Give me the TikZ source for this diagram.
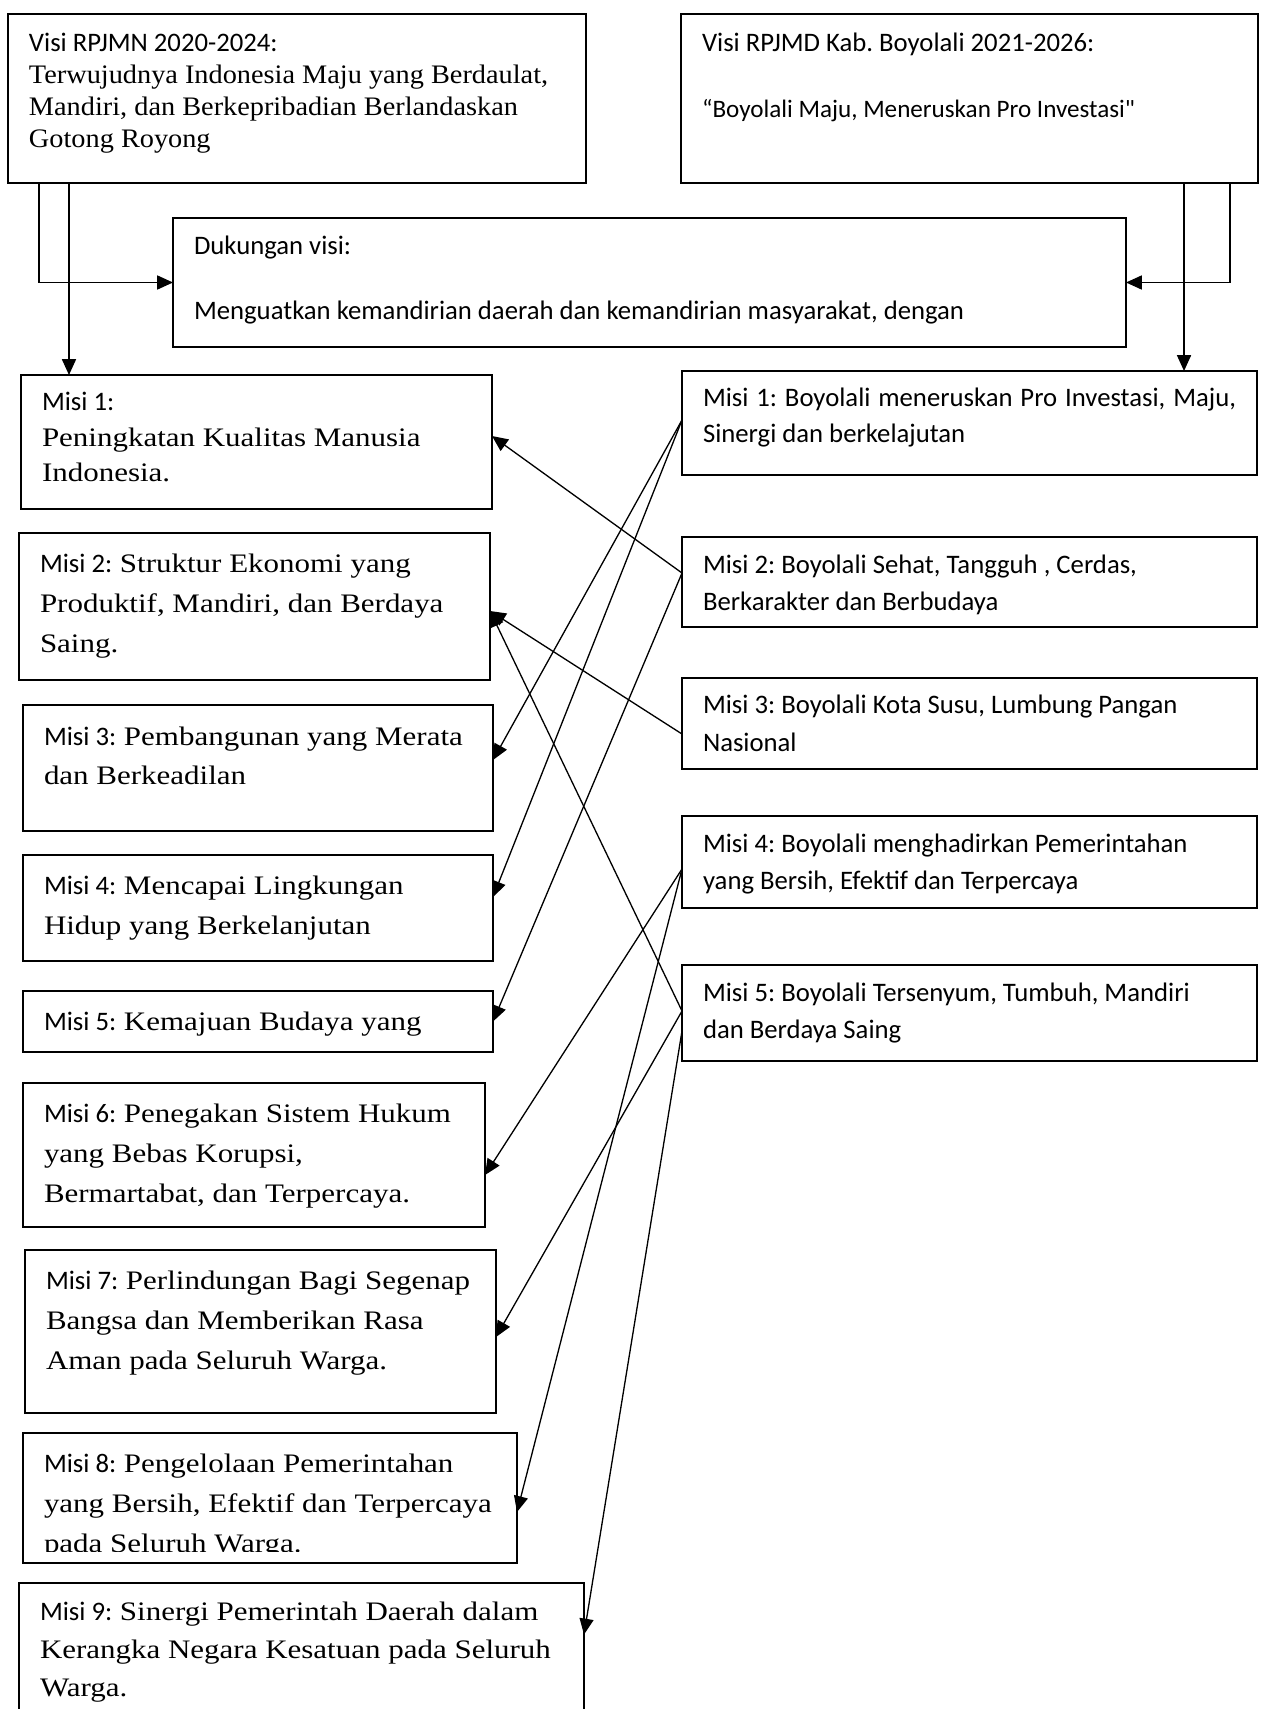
\documentclass[tikz,border=0pt]{standalone}
\usepackage{fontspec}
\setmainfont{Liberation Serif}[FakeStretch=1.16]
\newfontfamily\visiserif{Liberation Serif}[FakeStretch=1.06]
\newfontfamily\calibri{Carlito}
\usetikzlibrary{arrows.meta}
\frenchspacing
\newlength\pxu
\setlength\pxu{0.02cm}
% box text: width, height, first baseline, text
\newcommand{\inbox}[4]{\hspace*{21\pxu}\parbox[c][#2\pxu][t]{\dimexpr#1\pxu-21\pxu\relax}{\raggedright\rule{0pt}{#3\pxu}#4}}
\tikzset{
	panel/.style={draw, line width=1.1pt, anchor=north west, inner sep=0pt, outer sep=0pt},
	link/.style={line width=0.75pt, -{Triangle[length=9pt, width=8pt]}}
}

\begin{document}
\begin{tikzpicture}[x=0.02cm, y=-0.02cm]
			%%%%% START %%%%%
			\useasboundingbox (0, 0) rectangle (1260, 1709);
			\clip (0, 0) rectangle (1260, 1709);
			
			\node[panel] (vis1) at (8, 14) {\inbox{578}{169}{38}{\fontsize{15.2pt}{32\pxu}\selectfont {\calibri Visi RPJMN 2020-2024:}\\ {\visiserif Terwujudnya Indonesia Maju yang Berdaulat,\\ Mandiri, dan Berkepribadian Berlandaskan\\ Gotong Royong}}};
			\node[panel] (vis2) at (681, 14) {\inbox{577}{169}{38}{\calibri\fontsize{15.2pt}{66\pxu}\selectfont Visi RPJMD Kab. Boyolali 2021-2026:\\ {\fontsize{14.3pt}{66\pxu}\selectfont “Boyolali Maju, Meneruskan Pro Investasi"}}};
			\node[panel] (duk) at (173, 218) {\inbox{953}{129}{37}{\calibri\fontsize{15.2pt}{65\pxu}\selectfont Dukungan visi:\\ Menguatkan kemandirian daerah dan kemandirian masyarakat, dengan}};
			
			%%%%% MISI RPJMN %%%%%
			\node[panel] (l1) at (21, 375) {\inbox{471}{134}{36}{\fontsize{15.2pt}{35\pxu}\selectfont {\calibri Misi 1:}\\ Peningkatan Kualitas Manusia\\ Indonesia.}};
			\node[panel] (l2) at (19, 533) {\inbox{471}{147}{39}{\fontsize{15.2pt}{40\pxu}\selectfont {\calibri Misi 2:} Struktur Ekonomi yang\\ Produktif, Mandiri, dan Berdaya\\ Saing.}};
			\node[panel] (l3) at (23, 705) {\inbox{470}{126}{40}{\fontsize{15.2pt}{39\pxu}\selectfont {\calibri Misi 3:} Pembangunan yang Merata\\ dan Berkeadilan}};
			\node[panel] (l4) at (23, 855) {\inbox{470}{106}{39}{\fontsize{15.2pt}{40\pxu}\selectfont {\calibri Misi 4:} Mencapai Lingkungan\\ Hidup yang Berkelanjutan}};
			\node[panel] (l5) at (23, 991) {\inbox{470}{61}{39}{\fontsize{15.2pt}{40\pxu}\selectfont {\calibri Misi 5:} Kemajuan Budaya yang}};
			\node[panel] (l6) at (23, 1083) {\inbox{462}{144}{39}{\fontsize{15.2pt}{40\pxu}\selectfont {\calibri Misi 6:} Penegakan Sistem Hukum\\ yang Bebas Korupsi,\\ Bermartabat, dan Terpercaya.}};
			\node[panel] (l7) at (25, 1250) {\inbox{471}{163}{39}{\fontsize{15.2pt}{40\pxu}\selectfont {\calibri Misi 7:} Perlindungan Bagi Segenap\\ Bangsa dan Memberikan Rasa\\ Aman pada Seluruh Warga.}};
			\node[panel] (l8) at (23, 1433) {\inbox{494}{130}{39}{\fontsize{15.2pt}{40\pxu}\selectfont {\calibri Misi 8:} Pengelolaan Pemerintahan\\ yang Bersih, Efektif dan Terpercaya\\ pada Seluruh Warga.}};
			\fill[white] (25, 1552) rectangle (515, 1561);
			\node[panel] (l9) at (19, 1583) {\inbox{565}{140}{37}{\fontsize{15.2pt}{38\pxu}\selectfont {\calibri Misi 9:} Sinergi Pemerintah Daerah dalam\\ Kerangka Negara Kesatuan pada Seluruh\\ Warga.}};
			
			%%%%% MISI RPJMD %%%%%
			\node[panel] (r1) at (682, 371) {\inbox{575}{104}{35}{\calibri\fontsize{15.2pt}{37\pxu}\selectfont \makebox[533\pxu][s]{Misi 1: Boyolali meneruskan Pro Investasi, Maju,}\\ Sinergi dan berkelajutan}};
			\node[panel] (r2) at (682, 537) {\inbox{575}{90}{36}{\calibri\fontsize{15.2pt}{37\pxu}\selectfont Misi 2: Boyolali Sehat, Tangguh , Cerdas,\\ Berkarakter dan Berbudaya}};
			\node[panel] (r3) at (682, 678) {\inbox{575}{91}{35}{\calibri\fontsize{15.2pt}{38\pxu}\selectfont Misi 3: Boyolali Kota Susu, Lumbung Pangan\\ Nasional}};
			\node[panel] (r4) at (682, 816) {\inbox{575}{92}{36}{\calibri\fontsize{15.2pt}{37\pxu}\selectfont Misi 4: Boyolali menghadirkan Pemerintahan\\ yang Bersih, Efektif dan Terpercaya}};
			\node[panel] (r5) at (682, 965) {\inbox{575}{96}{36}{\calibri\fontsize{15.2pt}{37\pxu}\selectfont Misi 5: Boyolali Tersenyum, Tumbuh, Mandiri\\ dan Berdaya Saing}};
			
			%%%%% VISI LINKS %%%%%
			\draw[link] ([xshift=0.62cm]vis1.south west) |- (duk.west);
			\draw[link] ([xshift=1.22cm]vis1.south west) -- ([xshift=1.22cm]vis1.south west |- l1.north);
			\draw[link] ([xshift=-0.56cm]vis2.south east) |- (duk.east);
			\draw[link] ([xshift=-1.48cm]vis2.south east) -- ([xshift=-1.48cm]vis2.south east |- r1.north);
			
			%%%%% MISI LINKS %%%%%
			\draw[link] ([yshift=0.06cm]r1.west) -- ([yshift=0.16cm]l3.east);
			\draw[link] ([yshift=0.06cm]r1.west) -- ([yshift=0.22cm]l4.east);
			\draw[link] ([yshift=0.18cm]r2.west) -- ([yshift=0.12cm]l1.east);
			\draw[link] ([yshift=0.18cm]r2.west) -- (l5.east);
			\draw[link] ([yshift=-0.21cm]r3.west) -- ([yshift=-0.09cm]l2.east);
			\draw[link] ([yshift=0.04cm]r5.west) -- ([yshift=-0.09cm]l2.east);
			\draw[link] ([yshift=-0.14cm]r4.west) -- ([yshift=-0.4cm]l6.east);
			\draw[link] ([yshift=-0.14cm]r4.west) -- ([yshift=-0.28cm]l8.east);
			\draw[link] ([yshift=0.04cm]r5.west) -- ([yshift=-0.11cm]l7.east);
			\draw[link] ([yshift=-0.36cm]r5.west) -- ([yshift=0.37cm]l9.east);
			
			%%%%% END %%%%%
\end{tikzpicture}
\end{document}
